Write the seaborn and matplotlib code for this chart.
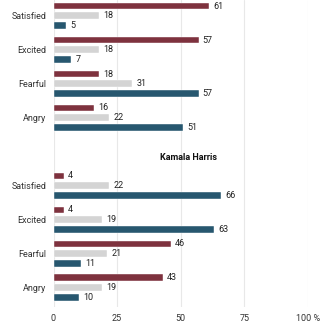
import matplotlib
matplotlib.use("Agg")
import matplotlib.pyplot as plt
import seaborn as sns
import pandas as pd

emotions = ["Satisfied", "Excited", "Fearful", "Angry"]
groups = ["Republicans", "Independents", "Democrats"]
palette = ["#8b2535", "#d4d4d4", "#1b5b7b"]

# Share (%) feeling each emotion toward each candidate, by group
trump_vals = {
    "Republicans": [61, 57, 18, 16],
    "Independents": [18, 18, 31, 22],
    "Democrats": [5, 7, 57, 51],
}
harris_vals = {
    "Republicans": [4, 4, 46, 43],
    "Independents": [22, 19, 21, 19],
    "Democrats": [66, 63, 11, 10],
}
x_ticks = [0, 25, 50, 75, 100]
x_tick_labels = ["0", "25", "50", "75", "100 %"]

rows = []
for cand, vals in (("Trump", trump_vals), ("Harris", harris_vals)):
    for g in groups:
        for emo, v in zip(emotions, vals[g]):
            rows.append({"key": f"{cand}|{emo}", "group": g, "pct": v})
df = pd.DataFrame(rows)

order = [f"Trump|{e}" for e in emotions] + ["spacer"] + [f"Harris|{e}" for e in emotions]

sns.set_theme(style="white")
plt.rcParams["font.family"] = ["Roboto", "DejaVu Sans"]

W = 328
fig = plt.figure(figsize=(W / 100, W / 100), dpi=100)
left, right, bottom = 53.5, 308, 307
ax = fig.add_axes([left / W, 1 - bottom / W, (right - left) / W, bottom / W])

sns.barplot(data=df, y="key", x="pct", hue="group", order=order,
            hue_order=groups, palette=palette, orient="h",
            width=0.88, gap=0.3, legend=False, ax=ax,
            edgecolor="white", linewidth=0.3)

for cont in ax.containers:
    ax.bar_label(cont, padding=3, fontsize=6.5, color="#222222")

ax.set_xlim(0, 100)
ax.set_ylim(8.56, -0.47)
ax.set_xticks(x_ticks)
ax.set_xticklabels(x_tick_labels)
ytick_pos = [0, 1, 2, 3, 5, 6, 7, 8]
ax.set_yticks(ytick_pos)
ax.set_yticklabels(emotions + emotions)
ax.tick_params(axis="both", length=0, labelsize=6.5, colors="#333333")
ax.tick_params(axis="y", pad=5)
ax.tick_params(axis="x", pad=5)
ax.set_xlabel("")
ax.set_ylabel("")
for s in ax.spines.values():
    s.set_visible(False)
for xv in x_ticks:
    ax.axvline(xv, color="#e8e8e8", linewidth=0.8, zorder=0)

ax.text(53, 4.15, "Kamala Harris", fontsize=6.5, fontweight="bold",
        color="#111111", ha="center", va="center")

fig.savefig("out.png", dpi=100)
